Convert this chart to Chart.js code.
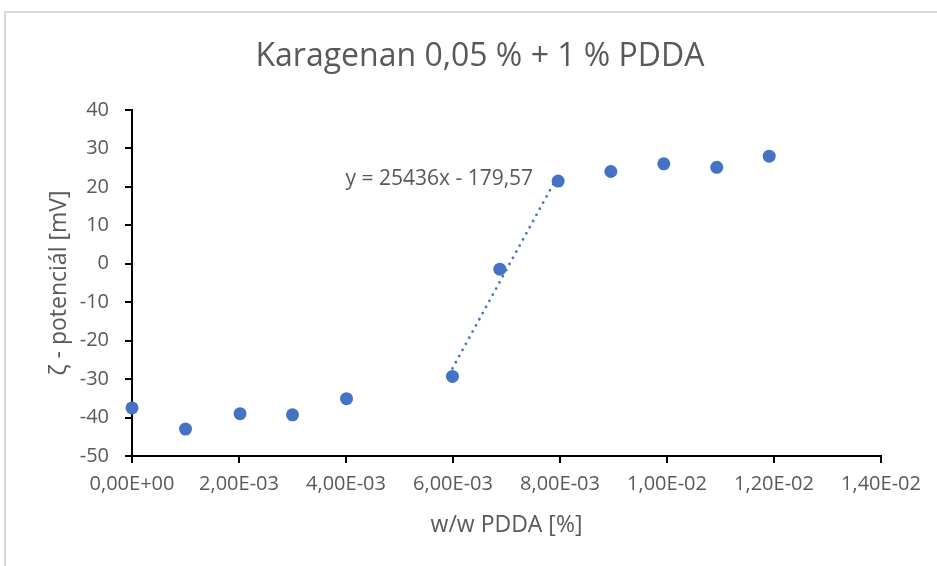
<!DOCTYPE html>
<html>
<head>
<meta charset="utf-8">
<script src="https://cdn.jsdelivr.net/npm/chart.js@4.4.0/dist/chart.umd.min.js"></script>
<style>
  html, body { margin: 0; padding: 0; background: #fff; overflow: hidden; }
  #page { position: relative; width: 937px; height: 566px; overflow: hidden; }
  #frame { position: absolute; left: 4px; top: 11px; width: 1000px; height: 600px; border: 2px solid #d9d9d9; }
  #box { position: absolute; left: 0; top: 0; width: 937px; height: 566px; }
</style>
</head>
<body>
<div id="page">
  <div id="frame"></div>
  <div id="box"><canvas id="zetaChart"></canvas></div>
</div>
<script>
// measured points (w/w PDDA vs zeta potential)
var pddaX = [0, 0.001, 0.00202, 0.003, 0.00401, 0.00599, 0.006875, 0.007965, 0.00895, 0.00994, 0.01093, 0.01191];
var zetaY = [-37.5, -43.0, -39.0, -39.3, -35.1, -29.3, -1.4, 21.5, 24.0, 26.0, 25.1, 28.0];

// linear trendline over the steep part
var trendX = [0.00599, 0.007965];
var trendY = [-27.21, 23.03];
var trendText = 'y = 25436x - 179,57';

var chartTitle = 'Karagenan 0,05 % + 1 % PDDA';
var xTitle = 'w/w PDDA [%]';
var yTitle = 'ζ - potenciál [mV]';

var grey = '#595959';
var blue = '#4472C4';
var fontFam = '"Open Sans", sans-serif';

function sciLabel(v) {
  var parts = Number(v).toExponential(2).split('e');
  var exp = parseInt(parts[1], 10);
  var e = (exp < 0 ? '-' : '+') + String(Math.abs(exp)).padStart(2, '0');
  return parts[0].replace('.', ',') + 'E' + e;
}

var points = pddaX.map(function (x, i) { return { x: x, y: zetaY[i] }; });
var trend = trendX.map(function (x, i) { return { x: x, y: trendY[i] }; });

// draws the trendline equation next to the upper end of the line
var eqLabel = {
  id: 'eqLabel',
  afterDatasetsDraw: function (chart) {
    var c = chart.ctx, xs = chart.scales.x, ys = chart.scales.y;
    c.save();
    c.font = '21px ' + fontFam;
    c.fillStyle = grey;
    c.textAlign = 'right';
    c.textBaseline = 'middle';
    c.fillText(trendText, xs.getPixelForValue(trendX[1]) - 25, ys.getPixelForValue(trendY[1]) + 4);
    c.restore();
  }
};

Chart.defaults.font.family = fontFam;

var ctx = document.getElementById('zetaChart').getContext('2d');
var zetaChart = new Chart(ctx, {
  type: 'scatter',
  data: {
    datasets: [{
      label: 'zeta',
      data: points,
      backgroundColor: blue,
      borderColor: blue,
      borderWidth: 0,
      pointRadius: 6.5,
      clip: false
    }, {
      label: 'trend',
      data: trend,
      showLine: true,
      borderColor: blue,
      borderWidth: 2.8,
      borderDash: [0, 7],
      borderCapStyle: 'round',
      pointRadius: 0,
      fill: false
    }]
  },
  plugins: [eqLabel],
  options: {
    responsive: true,
    maintainAspectRatio: false,
    animation: false,
    layout: { padding: { left: 79, right: 56, top: 0, bottom: 0 } },
    plugins: {
      legend: { display: false },
      tooltip: { enabled: false },
      title: {
        display: true,
        text: chartTitle,
        color: grey,
        font: { size: 32, weight: 'normal' },
        padding: { top: 37.8, bottom: 33.8 }
      }
    },
    scales: {
      x: {
        type: 'linear',
        min: 0, max: 0.014,
        ticks: { stepSize: 0.002, callback: sciLabel, color: grey, font: { size: 20 }, padding: 9, maxRotation: 0, autoSkip: false },
        grid: { drawOnChartArea: false, drawTicks: true, tickLength: 7, color: '#000', lineWidth: 2 },
        border: { display: true, color: '#000', width: 2 },
        title: { display: true, text: xTitle, color: grey, font: { size: 23 }, padding: { top: 0, bottom: 27 } },
        afterFit: function (s) { s.height = 110; }
      },
      y: {
        min: -50, max: 40,
        ticks: { stepSize: 10, color: grey, font: { size: 20 }, padding: 16 },
        grid: { drawOnChartArea: false, drawTicks: true, tickLength: 7, color: '#000', lineWidth: 2 },
        border: { display: true, color: '#000', width: 2 },
        title: { display: true, text: yTitle, color: grey, font: { size: 23 }, padding: { top: -33, bottom: 0 } },
        afterFit: function (s) { s.width = 53; }
      }
    }
  }
});
</script>
</body>
</html>
